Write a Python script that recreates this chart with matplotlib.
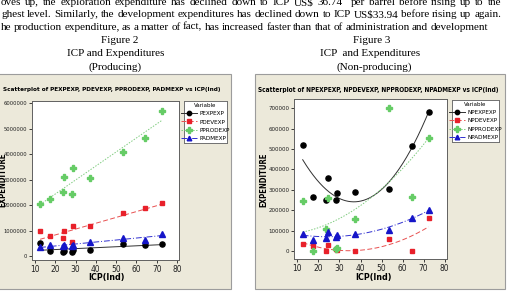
import os
import numpy as np
import matplotlib
matplotlib.use('Agg')
import matplotlib.pyplot as plt
from matplotlib.patches import Rectangle
from matplotlib.lines import Line2D
from matplotlib import font_manager as fm

# ---------------- data ----------------
icp = [12.5, 17.4, 23.7, 24.4, 28.2, 28.7, 37.3, 53.4, 64.4, 72.4]

# Producing
p_exp = [530000, 220000, 170000, 210000, 170000, 230000, 260000, 490000, 430000, 480000]
p_dev = [990000, 790000, 730000, 990000, 560000, 1170000, 1170000, 1690000, 1880000, 2070000]
p_prod = [2050000, 2240000, 2500000, 3120000, 2450000, 3460000, 3050000, 4070000, 4640000, 5700000]
p_adm = [360000, 430000, 400000, 430000, 410000, 450000, 550000, 720000, 640000, 870000]
p_names = ["PEXPEXP", "PDEVEXP", "PPRODEXP", "PADMEXP"]
p_yticks = [0, 1000000, 2000000, 3000000, 4000000, 5000000, 6000000]

# Non-producing
np_exp = [520000, 263000, 250000, 358000, 250000, 283000, 288000, 305000, 516000, 681000]
np_dev = [33000, 23000, 2000, 28000, 10000, 3000, 2000, 60000, 0, 160000]
np_prod = [245000, 2000, 106000, 261000, 11000, 15000, 155000, 700000, 263000, 552000]
np_adm = [83000, 52000, 62000, 95000, 67000, 77000, 83000, 104000, 162000, 201000]
np_names = ["NPEXPEXP", "NPDEVEXP", "NPPRODEXP", "NPADMEXP"]
np_yticks = [0, 100000, 200000, 300000, 400000, 500000, 600000, 700000]

xticks = [10, 20, 30, 40, 50, 60, 70, 80]

para_lines = [
    "oves up, the exploration expenditure has declined down to ICP US$ 36.74  per barrel before rising up to the",
    "ghest level. Similarly, the development expenditures has declined down to ICP US$33.94 before rising up again.",
    "he production expenditure, as a matter of fact, has increased faster than that of administration and development",
]

# ---------------- fonts ----------------
def find_narrow(bold):
    best = None
    for f in fm.fontManager.ttflist:
        base = os.path.basename(f.fname).lower()
        isbold = ('bold' in base) or (f.weight in ('bold', 700, 'heavy'))
        if isbold != bold or 'italic' in base or 'oblique' in base:
            continue
        if f.name == 'Liberation Sans Narrow':
            return f.fname
        if 'dejavusanscondensed' in base.replace('-', ''):
            best = f.fname
        elif best is None and ('narrow' in base or 'condensed' in base) and 'mono' not in base and 'serif' not in base:
            best = f.fname
    return best

NREG = find_narrow(False)
NBOLD = find_narrow(True)

def fp(size, bold=False):
    path = NBOLD if bold else NREG
    if path:
        return fm.FontProperties(fname=path, size=size)
    return fm.FontProperties(family='Liberation Sans', size=size, weight='bold' if bold else 'normal')

SERIF = ['Liberation Serif', 'DejaVu Serif']

# ---------------- figure ----------------
W, H = 507, 294
fig = plt.figure(figsize=(W / 100, H / 100), dpi=100)
fig.patch.set_facecolor('white')

def fx(px):
    return px / W

def fy(py):
    return 1 - py / H

styles = [
    dict(color='black', marker='o', ms=3.7, ls='-', lc='#303030'),
    dict(color='#E8202A', marker='s', ms=3.5, ls=(0, (5, 2.5)), lc='#E85050'),
    dict(color='#66CC66', marker='P', ms=4.3, ls=(0, (1.5, 1.5)), lc='#80CC80'),
    dict(color='#1515C8', marker='^', ms=3.9, ls=(0, (6, 2, 1, 2)), lc='#3030D0'),
]

renderer = fig.canvas.get_renderer()

probe = fig.text(0, 0, para_lines[1], fontsize=8.0, family=SERIF, parse_math=False)
FS = 8.0 * 500 / probe.get_window_extent(renderer).width
probe.remove()

def justify(line, ypx, x0, x1, fs):
    words = line.split(' ')
    ts = [fig.text(0, fy(ypx), w, fontsize=fs, family=SERIF, va='baseline',
                   parse_math=False) for w in words]
    ws = [t.get_window_extent(renderer).width for t in ts]
    gap = (x1 - x0 - sum(ws)) / (len(words) - 1)
    x = x0
    for t, w in zip(ts, ws):
        t.set_x(fx(x))
        x += w + gap

justify(para_lines[0], 5.0, 1, 501, FS)
justify(para_lines[1], 17.3, 1, 501, FS)
justify(para_lines[2], 29.5, 1, 488, FS)

for txt, cx, cy in [("Figure 2", 119.5, 43.0), ("ICP and Expenditures", 115.5, 56.3), ("(Producing)", 115, 69.5),
                    ("Figure 3", 372, 43.0), ("ICP  and Expenditures", 370, 56.3), ("(Non-producing)", 374, 69.5)]:
    fig.text(fx(cx), fy(cy), txt, fontsize=FS, family=SERIF, ha='center', va='baseline')

# Minitab frames
for x0, x1 in [(-3, 231), (255, 505)]:
    fig.patches.append(Rectangle((fx(x0), fy(289)), fx(x1 - x0), fy(74) - fy(289),
                                 transform=fig.transFigure, fc='#ECE9DA', ec='#9C9C9C', lw=0.8, zorder=-10))

def fit_text(t, target):
    w = t.get_window_extent(renderer).width
    t.set_fontsize(t.get_fontsize() * target / w)

def panel(rect, series, names, yticks, ylim, title, tcx, tw, ylab_x, xlab_cx, leg_box, ytw, deg):
    ax = fig.add_axes(rect)
    ax.set_facecolor('white')
    for vals, st in zip(series, styles):
        ax.plot(icp, vals, ls='none', marker=st['marker'], color=st['color'], ms=st['ms'],
                mec=st['color'], zorder=3)
        c = np.polyfit(icp, vals, deg)
        xs = np.linspace(min(icp), max(icp), 200)
        ax.plot(xs, np.polyval(c, xs), ls=st['ls'], color=st['lc'], lw=0.7, zorder=2)
    ax.set_xlim(8.5, 81)
    ax.set_ylim(*ylim)
    ax.set_xticks(xticks)
    ax.set_yticks(yticks)
    ax.set_xticklabels([str(v) for v in xticks], fontproperties=fp(6.0))
    ylabs = ax.set_yticklabels([str(v) for v in yticks], fontproperties=fp(6.0))
    wmax = max(l.get_window_extent(renderer).width for l in ylabs)
    if wmax > ytw:
        for l in ylabs:
            l.set_fontsize(6.0 * ytw / wmax)
    ax.tick_params(length=2.5, width=0.6, pad=1, colors='#202020')
    for s in ax.spines.values():
        s.set_linewidth(0.7)
        s.set_color('#606060')
    t = fig.text(fx(tcx), fy(90), title, fontproperties=fp(7, True), ha='center', va='center')
    fit_text(t, tw)
    fig.text(fx(ylab_x), fy(180), "EXPENDITURE", fontproperties=fp(5.6, True),
             rotation=90, ha='center', va='center')
    fig.text(fx(xlab_cx), fy(277.5), "ICP(Ind)", fontproperties=fp(6.4, True),
             ha='center', va='center')
    # legend
    lx0, ly0, lx1, ly1 = leg_box
    lax = fig.add_axes([fx(lx0), fy(ly1), fx(lx1 - lx0), fy(ly0) - fy(ly1)])
    lax.set_facecolor('white')
    lax.set_xticks([])
    lax.set_yticks([])
    for s in lax.spines.values():
        s.set_linewidth(0.7)
        s.set_color('#707070')
    handles = [Line2D([], [], color=st['lc'], ls=st['ls'], lw=0.7, marker=st['marker'],
                      mfc=st['color'], mec=st['color'], ms=st['ms'] * 0.85) for st in styles]
    lax.legend(handles, names, loc='center', frameon=False, title="Variable",
               prop=fp(4.6), title_fontproperties=fp(4.4),
               handlelength=2.6, handletextpad=0.4, labelspacing=0.45, borderpad=0.1)
    return ax

# producing: linear fits; non-producing: quadratic fits
panel([fx(32), fy(260), fx(147), fy(101) - fy(260)],
      [p_exp, p_dev, p_prod, p_adm], p_names, p_yticks, (-150000, 6080000),
      "Scatterplot of PEXPEXP, PDEVEXP, PPRODEXP, PADMEXP vs ICP(Ind)", 111.5, 217,
      2.4, 106, (184, 101, 227, 143), 23, 1)

panel([fx(294.3), fy(259.3), fx(152.4), fy(99.3) - fy(259.3)],
      [np_exp, np_dev, np_prod, np_adm], np_names, np_yticks, (-40700, 744000),
      "Scatterplot of NPEXPEXP, NPDEVEXP, NPPRODEXP, NPADMEXP vs ICP(Ind)", 378.5, 243,
      264, 373.5, (452, 100, 499, 142), 21, 2)

fig.savefig('out.png', dpi=100)
